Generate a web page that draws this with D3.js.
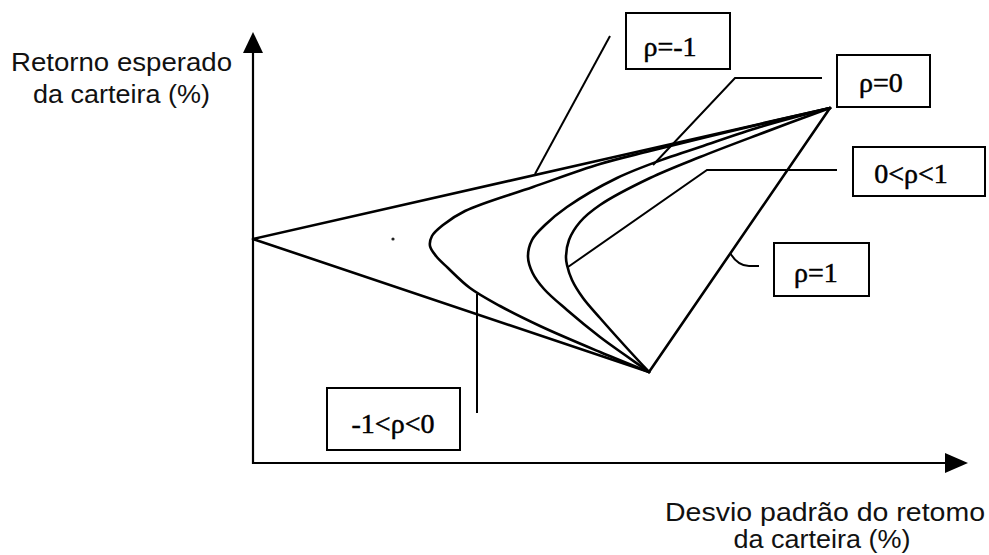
<!DOCTYPE html>
<html><head><meta charset="utf-8">
<script src="https://cdn.jsdelivr.net/npm/d3@7"></script>
<style>html,body{margin:0;padding:0;background:#fff}svg{display:block}</style>
</head><body>
<svg id="c" width="989" height="555"></svg>
<script>
// ---- data (σ = desvio padrão %, E = retorno esperado %) ----
const seriesLabels = ["ρ=-1", "-1<ρ<0", "ρ=0", "0<ρ<1", "ρ=1"];
const axisTitleY = ["Retorno esperado", "da carteira (%)"];
const axisTitleX = ["Desvio padrão do retomo", "da carteira (%)"];

const rhoM1Sigma = [19.8, 0, 28.85];
const rhoM1Ret   = [4.55, 11.2, 17.75];

const rhoNegSigma = [19.8, 17.35, 14.35, 12.35, 10.85, 9.75, 9.15, 8.85, 8.95, 9.5, 10.6, 14.0, 17.35, 19.85, 24.35, 28.85];
const rhoNegRet   = [4.55, 5.55, 6.85, 7.85, 8.75, 9.75, 10.35, 10.85, 11.35, 11.9, 12.6, 13.8, 14.95, 15.6, 16.7, 17.75];

const rho0Sigma = [19.8, 18.6, 17.35, 15.7, 14.55, 13.98, 13.75, 13.95, 14.6, 15.7, 18.2, 20.7, 22.35, 25.35, 28.85];
const rho0Ret   = [4.55, 5.4, 6.3, 7.65, 8.7, 9.5, 10.3, 11.15, 11.9, 12.8, 14.25, 15.25, 15.8, 16.8, 17.75];

const rhoPosSigma = [19.8, 18.6, 17.35, 16.5, 15.95, 15.7, 15.65, 15.8, 16.35, 17.35, 19.85, 22.35, 25.35, 28.85];
const rhoPosRet   = [4.55, 5.85, 7.25, 8.25, 9.15, 9.9, 10.3, 11.15, 12.05, 12.9, 14.25, 15.3, 16.45, 17.75];

const rhoP1Sigma = [19.8, 28.85];
const rhoP1Ret   = [4.55, 17.75];

const strayDot = [7.0, 11.2];

// ---- layout ----
const sigmaMax = 35.75, retMax = 21.55;
const svg = d3.select("#c");
const x = d3.scaleLinear().domain([0, sigmaMax]).range([253, 968]);
const y = d3.scaleLinear().domain([0, retMax]).range([463, 32]);
const zip = (s, r) => s.map((v, i) => [v, r[i]]);

// axes with arrowheads
const x0 = x(0), y0 = y(0), xt = x(sigmaMax), yt = y(retMax);
svg.append("line").attr("x1", x0).attr("y1", y0 + 1).attr("x2", x0).attr("y2", yt + 18)
  .attr("stroke", "#000").attr("stroke-width", 2.2);
svg.append("path").attr("d", `M${x0},${yt} L${x0 - 10},${yt + 21} L${x0 + 10},${yt + 21} Z`).attr("fill", "#000");
svg.append("line").attr("x1", x0 - 1).attr("y1", y0).attr("x2", xt - 20).attr("y2", y0)
  .attr("stroke", "#000").attr("stroke-width", 2.2);
svg.append("path").attr("d", `M${xt},${y0} L${xt - 23},${y0 - 10} L${xt - 23},${y0 + 10} Z`).attr("fill", "#000");

// curves
const lineLin = d3.line().x(d => x(d[0])).y(d => y(d[1]));
const lineCurve = d3.line().x(d => x(d[0])).y(d => y(d[1])).curve(d3.curveCatmullRom.alpha(0.5));
const g = svg.append("g").attr("fill", "none").attr("stroke", "#000").attr("stroke-width", 2.6)
  .attr("stroke-linejoin", "round").attr("stroke-linecap", "round");
g.append("path").attr("d", lineLin(zip(rhoM1Sigma, rhoM1Ret)));
g.append("path").attr("d", lineLin(zip(rhoP1Sigma, rhoP1Ret)));
g.append("path").attr("d", lineCurve(zip(rhoNegSigma, rhoNegRet)));
g.append("path").attr("d", lineCurve(zip(rho0Sigma, rho0Ret)));
g.append("path").attr("d", lineCurve(zip(rhoPosSigma, rhoPosRet)));

svg.append("circle").attr("cx", x(strayDot[0])).attr("cy", y(strayDot[1])).attr("r", 1.6).attr("fill", "#222");

// annotations (box, label, leader) – positions in data units
const notes = [
  {label: seriesLabels[0], box: [18.65, 22.5, 23.85, 19.7], text: [20.85, 20.35], leader: [[14.1, 14.45], [17.85, 21.35]]},
  {label: seriesLabels[1], box: [3.7, 3.75, 10.35, 0.65], text: [7.0, 1.5], leader: [[11.2, 8.45], [11.2, 2.5]]},
  {label: seriesLabels[2], box: [29.2, 20.4, 33.85, 17.8], text: [31.4, 18.55], leader: [[20.0, 14.9], [24.1, 19.25], [28.45, 19.25]]},
  {label: seriesLabels[3], box: [30.0, 15.8, 36.6, 13.35], text: [32.9, 14.0], leader: [[15.75, 9.8], [22.7, 14.65], [29.2, 14.65]]},
  {label: seriesLabels[4], box: [26.05, 11.0, 30.8, 8.35], text: [28.15, 9.05], leader: null}
];
const ann = svg.append("g");
notes.forEach(n => {
  const [bx0, by0, bx1, by1] = n.box;
  ann.append("rect").attr("x", x(bx0)).attr("y", y(by0))
    .attr("width", x(bx1) - x(bx0)).attr("height", y(by1) - y(by0))
    .attr("fill", "#fff").attr("stroke", "#000").attr("stroke-width", 2);
  ann.append("text").attr("x", x(n.text[0])).attr("y", y(n.text[1]))
    .attr("text-anchor", "middle").attr("font-family", "'Liberation Serif','Times New Roman',serif")
    .attr("font-size", 28).attr("fill", "#000").attr("stroke", "#000").attr("stroke-width", 0.5)
    .text(n.label);
  if (n.leader) {
    ann.append("path").attr("d", lineLin(n.leader)).attr("fill", "none")
      .attr("stroke", "#000").attr("stroke-width", 2).attr("stroke-linejoin", "miter");
  }
});
// hook leader for ρ=1
ann.append("path")
  .attr("d", `M${x(23.85)},${y(10.5)} Q${x(24.25)},${y(9.85)} ${x(24.8)},${y(9.85)} L${x(25.3)},${y(9.85)}`)
  .attr("fill", "none").attr("stroke", "#000").attr("stroke-width", 2);

// axis titles
const sans = "'Liberation Sans', Arial, Helvetica, sans-serif";
const ty = svg.append("g").attr("font-family", sans).attr("font-size", 25).attr("fill", "#111").attr("text-anchor", "middle");
ty.append("text").attr("x", 121.5).attr("y", 71).attr("textLength", 221).attr("lengthAdjust", "spacingAndGlyphs").text(axisTitleY[0]);
ty.append("text").attr("x", 121.5).attr("y", 103).attr("textLength", 177).attr("lengthAdjust", "spacingAndGlyphs").text(axisTitleY[1]);
ty.append("text").attr("x", 825).attr("y", 521).attr("textLength", 320).attr("lengthAdjust", "spacingAndGlyphs").text(axisTitleX[0]);
ty.append("text").attr("x", 822).attr("y", 548).attr("textLength", 177).attr("lengthAdjust", "spacingAndGlyphs").text(axisTitleX[1]);
</script>
</body></html>
